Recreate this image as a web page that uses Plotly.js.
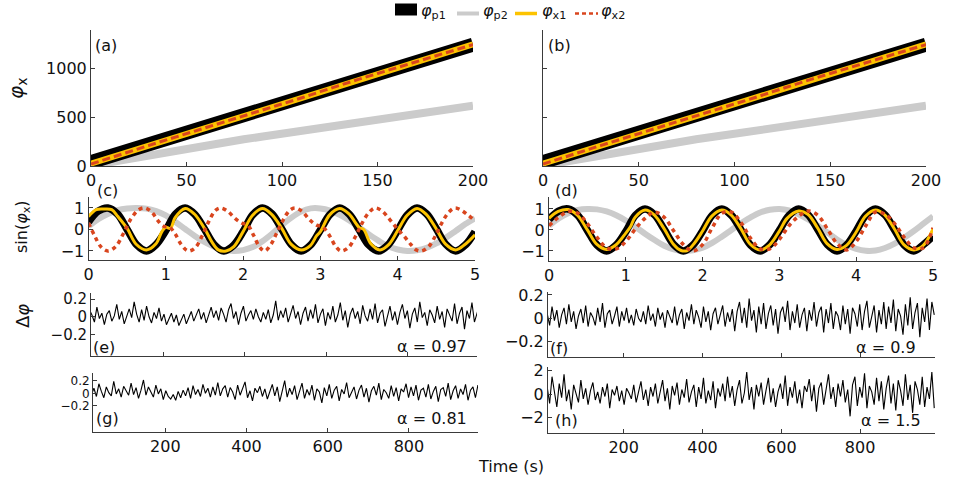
<!DOCTYPE html>
<html>
<head>
<meta charset="utf-8">
<script src="https://cdn.plot.ly/plotly-3.0.1.min.js"></script>
<style>
  html, body { margin: 0; padding: 0; background: #fff; }
  #chart { width: 961px; height: 478px; }
</style>
</head>
<body>
<div id="chart"></div>
<script>
// ---- Panels (a)/(b): unwrapped phases over the first 200 s ----
const timeTop = [0,10,20,30,40,50,60,70,80,90,100,110,120,130,140,150,160,170,180,190,200];
const phiP1Top = [40,100,160,222,282,340,400,460,520,580,640,705,770,835,895,955,1015,1075,1135,1190,1250];
const phiP2Top = [5,40,75,110,148,185,215,245,275,303,332,362,392,420,448,482,510,538,565,592,620];
const phiX1Top = [25,88,150,212,273,333,393,453,513,575,637,700,765,830,892,952,1012,1072,1132,1190,1252];
const phiX2Top = [20,85,148,210,272,332,392,452,512,574,636,700,765,830,892,952,1012,1072,1132,1190,1250];

// ---- Panels (c)/(d): sin of the phases over the first 5 s ----
const sinTime = [0,0.125,0.25,0.375,0.5,0.625,0.75,0.875,1,1.125,1.25,1.375,1.5,1.625,1.75,1.875,2,2.125,2.25,2.375,2.5,2.625,2.75,2.875,3,3.125,3.25,3.375,3.5,3.625,3.75,3.875,4,4.125,4.25,4.375,4.5,4.625,4.75,4.875,5];
const sinP1C = [0.35,0.85,1.0,0.72,0.0,-0.72,-1.0,-0.7,-0.05,0.72,1.0,0.7,0.02,-0.7,-1.0,-0.75,-0.1,0.68,1.0,0.72,0.02,-0.7,-1.0,-0.72,-0.02,0.7,1.0,0.7,0.0,-0.72,-1.0,-0.72,-0.04,0.68,1.0,0.72,0.03,-0.7,-1.0,-0.72,-0.1];
const sinP2C = [0.15,0.48,0.72,0.9,0.98,1.0,0.97,0.85,0.65,0.35,0.02,-0.3,-0.58,-0.8,-0.95,-1.0,-0.96,-0.82,-0.55,-0.2,0.2,0.55,0.83,0.98,0.98,0.88,0.68,0.42,0.1,-0.22,-0.52,-0.78,-0.93,-1.0,-0.97,-0.85,-0.65,-0.38,-0.07,0.25,0.52];
const sinX1CTime = [0,0.1,0.2,0.3,0.38,0.5,0.62,0.75,0.87,0.95,1.0,1.06,1.12,1.25,1.37,1.5,1.6,1.68,1.78,1.88,2.0,2.12,2.25,2.37,2.5,2.62,2.75,2.87,2.95,3.0,3.12,3.25,3.37,3.5,3.56,3.65,3.77,3.88,4.0,4.12,4.25,4.37,4.5,4.62,4.75,4.87,5.0];
const sinX1C = [0.6,0.92,0.95,0.92,0.6,0.05,-0.7,-0.95,-0.68,-0.1,0.1,0.05,0.55,0.98,0.72,0.05,-0.6,-0.95,-1.0,-0.8,-0.1,0.65,0.97,0.7,0.05,-0.68,-0.95,-0.75,-0.3,-0.1,0.68,0.97,0.72,0.1,0.0,-0.65,-0.95,-0.72,-0.05,0.65,0.98,0.7,0.02,-0.68,-0.95,-0.7,-0.25];
const sinX2CTime = [0,0.08,0.16,0.25,0.35,0.45,0.55,0.65,0.73,0.82,0.9,0.97,1.05,1.12,1.2,1.29,1.38,1.47,1.56,1.64,1.71,1.8,1.9,1.98,2.06,2.14,2.21,2.28,2.36,2.43,2.52,2.6,2.67,2.76,2.86,2.95,3.03,3.12,3.2,3.27,3.36,3.45,3.54,3.63,3.71,3.8,3.9,3.99,4.08,4.17,4.24,4.31,4.4,4.48,4.57,4.66,4.74,4.82,4.9,5.0];
const sinX2C = [0.3,-0.3,-0.8,-1.0,-0.8,-0.2,0.5,0.92,1.0,0.8,0.4,0.15,0.1,-0.2,-0.7,-1.0,-0.85,-0.3,0.4,0.88,1.0,0.85,0.5,0.3,0.2,-0.3,-0.8,-1.0,-0.7,-0.2,0.45,0.88,1.0,0.85,0.45,0.2,0.12,-0.3,-0.8,-1.0,-0.85,-0.35,0.3,0.8,1.0,0.85,0.45,0.05,-0.3,-0.7,-0.95,-1.0,-0.8,-0.35,0.3,0.8,1.0,0.9,0.7,0.4];

const sinP1D = [0.5,0.9,1.0,0.7,-0.02,-0.72,-1.0,-0.72,-0.08,0.7,1.0,0.72,0.03,-0.7,-1.0,-0.72,-0.05,0.7,1.0,0.7,0.0,-0.72,-1.0,-0.7,-0.02,0.7,1.0,0.72,0.02,-0.7,-1.0,-0.72,-0.05,0.7,1.0,0.72,0.0,-0.72,-1.0,-0.7,-0.3];
const sinP2D = [0.2,0.55,0.8,0.95,1.0,0.98,0.88,0.7,0.45,0.15,-0.18,-0.48,-0.75,-0.92,-1.0,-0.97,-0.85,-0.62,-0.32,0.0,0.32,0.6,0.83,0.96,1.0,0.93,0.75,0.5,0.2,-0.12,-0.45,-0.72,-0.9,-0.99,-0.98,-0.86,-0.65,-0.37,-0.05,0.3,0.65];
const sinX1DTime = [0,0.12,0.25,0.37,0.5,0.62,0.75,0.87,1.0,1.06,1.12,1.25,1.37,1.5,1.62,1.72,1.8,1.9,2.0,2.12,2.25,2.37,2.5,2.62,2.75,2.87,3.0,3.1,3.25,3.37,3.5,3.62,3.75,3.87,4.0,4.12,4.25,4.37,4.5,4.62,4.75,4.87,5.0];
const sinX1D = [0.55,0.88,0.97,0.7,0.0,-0.68,-0.93,-0.72,-0.15,0.15,0.6,0.95,0.72,0.05,-0.68,-0.98,-0.98,-0.6,-0.05,0.66,0.95,0.72,0.05,-0.68,-0.95,-0.72,-0.05,0.55,0.9,0.75,0.08,-0.65,-0.93,-0.75,-0.1,0.65,0.95,0.72,0.03,-0.7,-0.95,-0.75,0.05];
const sinX2D = [0.2,0.6,0.88,0.8,0.3,-0.35,-0.85,-0.9,-0.55,0.05,0.55,0.85,0.6,-0.05,-0.7,-1.0,-0.7,0.1,0.8,0.85,0.35,-0.4,-0.9,-0.9,-0.45,0.2,0.65,0.9,0.7,0.05,-0.65,-0.95,-0.55,0.2,0.85,0.75,0.3,-0.35,-0.85,-0.85,0.1];

// ---- Panels (e)-(h): phase differences over the full record ----
const dPhiE = [0.05,-0.04,0.08,0.02,-0.06,0.11,-0.02,0.04,-0.09,0.03,0.07,-0.05,0.01,0.14,-0.03,0.06,-0.08,0.02,
  0.09,-0.01,0.17,0.03,-0.06,0.08,-0.04,0.12,0.0,-0.07,0.05,-0.02,0.1,-0.05,0.03,-0.09,-0.03,0.04,
  -0.06,0.02,-0.1,-0.04,0.03,-0.08,-0.02,0.06,-0.05,0.01,0.09,-0.03,0.05,-0.07,0.02,0.11,-0.01,0.07,
  -0.04,0.1,0.03,-0.06,0.08,0.15,-0.02,0.06,-0.09,0.04,0.12,-0.05,0.02,0.07,-0.03,0.09,0.0,-0.06,
  0.05,-0.03,0.08,-0.07,0.02,0.18,-0.04,0.07,-0.01,0.1,-0.06,0.03,0.13,-0.02,0.06,-0.09,0.04,0.11,
  -0.05,0.08,-0.02,0.14,-0.07,0.03,0.09,-0.1,0.05,-0.03,0.12,-0.06,0.02,0.16,-0.04,0.07,-0.12,0.03,
  0.1,-0.02,0.06,-0.08,0.13,0.01,-0.05,0.09,-0.03,0.15,-0.07,0.04,0.08,-0.11,0.02,0.12,-0.04,0.06,
  -0.09,0.05,0.14,-0.02,0.07,-0.13,0.03,0.1,-0.06,0.17,-0.01,0.05,-0.1,0.08,0.02,-0.07,0.12,-0.03,
  0.06,-0.12,0.09,0.01,-0.05,0.15,-0.08,0.04,0.11,-0.14,0.07,-0.02,0.16,-0.06,0.03,0.13,-0.09,0.18];
const dPhiF = [0.04,-0.06,0.1,-0.02,0.07,-0.08,0.03,0.09,-0.05,0.12,-0.03,0.06,-0.09,0.02,0.08,-0.04,0.11,-0.07,
  0.05,0.01,-0.06,0.09,-0.03,0.13,-0.08,0.04,0.07,-0.05,0.02,0.1,-0.07,0.06,-0.02,0.09,-0.04,0.03,
  -0.06,0.08,0.0,-0.03,0.06,-0.05,0.11,-0.02,0.04,-0.07,0.09,-0.01,0.05,-0.08,0.07,0.02,-0.04,0.1,
  -0.06,0.03,0.08,-0.09,0.05,-0.02,0.12,-0.05,0.07,0.01,-0.08,0.1,-0.03,0.06,-0.1,0.04,0.09,-0.05,
  0.02,0.11,-0.07,0.05,-0.03,0.08,-0.11,0.06,0.14,-0.04,0.09,-0.08,0.17,-0.02,0.07,-0.12,0.1,-0.05,
  0.13,-0.09,0.04,0.11,-0.06,0.08,-0.13,0.05,0.1,-0.03,0.15,-0.1,0.06,-0.04,0.12,-0.08,0.03,0.09,
  -0.11,0.07,-0.02,0.14,-0.07,0.05,0.1,-0.12,0.08,-0.04,0.13,-0.09,0.06,0.02,-0.1,0.11,-0.05,0.08,
  -0.13,0.09,0.04,-0.07,0.12,-0.1,0.06,0.15,-0.08,0.03,0.11,-0.12,0.07,-0.05,0.14,-0.09,0.1,-0.04,
  0.16,-0.11,0.08,0.02,-0.14,0.12,-0.06,0.18,-0.09,0.05,0.13,-0.16,0.09,-0.03,0.17,-0.1,0.14,0.03];
const dPhiG = [0.06,0.12,-0.02,0.08,-0.05,0.15,0.03,-0.07,0.1,0.01,-0.04,0.19,-0.01,0.07,-0.06,0.11,0.04,-0.03,
  0.16,-0.02,0.09,-0.08,0.05,0.21,-0.03,0.1,0.02,-0.06,0.13,-0.01,0.07,-0.1,0.04,-0.05,-0.09,-0.02,
  -0.11,0.03,-0.07,0.05,-0.04,0.09,-0.08,0.12,-0.02,0.06,-0.05,0.14,0.0,0.08,-0.06,0.1,-0.03,0.17,
  -0.04,0.07,0.12,-0.06,0.09,0.02,-0.1,0.13,-0.03,0.06,0.18,-0.07,0.04,-0.12,0.08,0.01,0.11,-0.05,
  0.07,-0.09,0.03,0.14,-0.04,0.1,-0.13,0.05,0.2,-0.06,0.08,-0.02,0.12,-0.1,0.04,0.16,-0.08,0.06,
  -0.03,0.13,-0.11,0.07,0.02,-0.15,0.09,-0.04,0.14,-0.08,0.05,0.11,-0.12,0.06,-0.01,0.17,-0.07,0.03,
  0.1,-0.09,0.05,0.13,-0.06,0.08,-0.14,0.04,0.11,-0.03,0.16,-0.1,0.06,0.01,-0.08,0.12,-0.05,0.09,
  -0.12,0.07,0.02,0.15,-0.07,0.1,-0.04,0.13,-0.11,0.05,0.08,-0.06,0.14,-0.09,0.03,0.11,-0.13,0.06,
  0.09,-0.05,0.16,-0.1,0.04,0.12,-0.08,0.07,-0.02,0.14,-0.11,0.05,0.1,-0.07,0.13,-0.04,0.08,0.18];
const dPhiH = [0.6,-0.8,1.5,0.2,-1.1,0.9,-0.3,1.7,-0.6,0.4,-1.3,0.8,0.1,-0.7,1.2,-0.4,0.5,-0.9,
  0.3,1.0,-0.5,0.2,-0.8,0.6,-0.2,0.9,-1.2,0.4,-0.1,0.7,-0.6,0.3,-0.9,0.5,0.1,-0.4,
  0.8,-0.7,0.2,1.1,-0.5,0.4,-1.0,0.6,-0.2,0.9,-0.8,0.3,1.2,-0.6,0.5,-1.3,0.7,-0.1,
  1.0,-0.9,0.4,-0.3,1.3,-0.7,0.2,0.8,-1.1,0.6,-0.4,1.4,-0.8,0.3,-0.5,1.1,-1.2,0.5,
  -0.2,0.9,-0.6,1.5,-0.3,0.7,-1.0,0.4,1.2,-0.8,0.1,1.9,-0.5,0.6,-1.3,0.8,-0.2,1.0,
  -0.9,0.3,1.4,-0.7,0.5,-1.1,0.2,0.9,-0.4,1.6,-1.0,0.6,-0.3,1.1,-0.8,0.4,-1.2,0.7,
  0.2,1.3,-0.6,0.8,-1.5,0.5,1.0,-0.9,0.3,1.7,-0.4,0.6,-1.1,0.9,-0.2,1.2,-0.7,0.4,
  -1.9,0.8,1.5,-1.0,0.6,-0.3,1.8,-1.2,0.7,0.2,-0.9,1.4,-0.6,1.1,-1.3,0.5,1.6,-0.8,
  0.9,-1.4,1.2,0.3,-1.0,1.7,-0.5,0.8,-1.6,1.1,0.4,-0.9,1.5,-1.1,0.6,-0.4,1.9,-1.2];
// sample times of the phase-difference records (seconds)
const noiseTime = dPhiE.map((_, i) => 6 + 6.1 * i);

const alphaLabels = ['α = 0.97', 'α = 0.9', 'α = 0.81', 'α = 1.5'];
const legendNames = ['<i>φ</i><sub>p1</sub>', '<i>φ</i><sub>p2</sub>', '<i>φ</i><sub>x1</sub>', '<i>φ</i><sub>x2</sub>'];

// ---- styling ----
const W = 961, H = 478;
const FONT = 'DejaVu Sans';
const C_P1 = '#000000', C_P2 = '#cbcbcb', C_X1 = '#fcc300', C_X2 = '#d9451e';
const dx = (a, b) => [a / W, b / W];
const dy = (top, bottom) => [1 - bottom / H, 1 - top / H];
const px = v => v / W;
const py = v => 1 - v / H;

function axis(extra) {
  return Object.assign({
    showline: true, linecolor: '#3a3a3a', linewidth: 1,
    ticks: 'inside', ticklen: 4, tickcolor: '#3a3a3a', tickwidth: 1,
    showgrid: false, zeroline: false, fixedrange: true,
    tickfont: { family: FONT, size: 16, color: '#111' }
  }, extra);
}

function line(x, y, xa, ya, color, width, dash, smooth) {
  return {
    type: 'scatter', mode: 'lines', x: x, y: y, xaxis: xa, yaxis: ya,
    line: { color: color, width: width, dash: dash || 'solid', shape: smooth ? 'spline' : 'linear', smoothing: 1 },
    showlegend: false, hoverinfo: 'skip'
  };
}

const traces = [];
// (a) and (b)
[['x', 'y'], ['x2', 'y2']].forEach(([xa, ya]) => {
  traces.push(line(timeTop, phiP2Top, xa, ya, C_P2, 8));
  traces.push(line(timeTop, phiP1Top, xa, ya, C_P1, 14));
  traces.push(line(timeTop, phiX1Top, xa, ya, C_X1, 6));
  traces.push(line(timeTop, phiX2Top, xa, ya, C_X2, 3, '8px,4px'));
});
// (c)
traces.push(line(sinTime, sinP2C, 'x3', 'y3', C_P2, 6, null, true));
traces.push(line(sinTime, sinP1C, 'x3', 'y3', C_P1, 7.5, null, true));
traces.push(line(sinX1CTime, sinX1C, 'x3', 'y3', C_X1, 3, null, true));
traces.push(line(sinX2CTime, sinX2C, 'x3', 'y3', C_X2, 3.5, '4px,4px', true));
// (d)
traces.push(line(sinTime, sinP2D, 'x4', 'y4', C_P2, 6, null, true));
traces.push(line(sinTime, sinP1D, 'x4', 'y4', C_P1, 7.5, null, true));
traces.push(line(sinX1DTime, sinX1D, 'x4', 'y4', C_X1, 3, null, true));
traces.push(line(sinTime, sinX2D, 'x4', 'y4', C_X2, 3.5, '4px,4px', true));
// (e)-(h)
traces.push(line(noiseTime, dPhiE, 'x5', 'y5', '#000', 1.1));
traces.push(line(noiseTime, dPhiF, 'x6', 'y6', '#000', 1.1));
traces.push(line(noiseTime, dPhiG, 'x7', 'y7', '#000', 1.1));
traces.push(line(noiseTime, dPhiH, 'x8', 'y8', '#000', 1.1));

const topTicks = [0, 50, 100, 150, 200];
const sinTicks = [0, 1, 2, 3, 4, 5];
const timeTicks = [200, 400, 600, 800];

const layout = {
  width: W, height: H,
  margin: { l: 0, r: 0, t: 0, b: 0 },
  paper_bgcolor: '#fff', plot_bgcolor: 'rgba(0,0,0,0)',
  font: { family: FONT, size: 16, color: '#111' },
  showlegend: false,
  xaxis:  axis({ domain: dx(91, 473),  range: [0, 200], tickvals: topTicks, anchor: 'y' }),
  yaxis:  axis({ domain: dy(30, 166),  range: [0, 1400], tickvals: [0, 500, 1000], anchor: 'x' }),
  xaxis2: axis({ domain: dx(543, 926), range: [0, 200], tickvals: topTicks, anchor: 'y2' }),
  yaxis2: axis({ domain: dy(30, 166),  range: [0, 1400], tickvals: [0, 500, 1000], showticklabels: false, anchor: 'x2' }),
  xaxis3: axis({ domain: dx(88.5, 475), range: [0, 5], tickvals: sinTicks, anchor: 'y3' }),
  yaxis3: axis({ domain: dy(197, 260), range: [-1.42, 1.51], tickvals: [-1, 0, 1], anchor: 'x3' }),
  xaxis4: axis({ domain: dx(549, 933), range: [0, 5], tickvals: sinTicks, anchor: 'y4' }),
  yaxis4: axis({ domain: dy(197, 261), range: [-1.48, 1.57], tickvals: [-1, 0, 1], anchor: 'x4' }),
  xaxis5: axis({ domain: dx(91, 477),  range: [22, 970], tickvals: timeTicks, showticklabels: false, anchor: 'y5' }),
  yaxis5: axis({ domain: dy(293, 356), range: [-0.446, 0.27], tickvals: [-0.2, 0, 0.2], anchor: 'x5',
                 tickfont: { family: FONT, size: 15, color: '#111' } }),
  xaxis6: axis({ domain: dx(548, 935), range: [8, 990], tickvals: timeTicks, showticklabels: false, anchor: 'y6' }),
  yaxis6: axis({ domain: dy(292, 357), range: [-0.33, 0.225], tickvals: [-0.2, 0, 0.2], anchor: 'x6' }),
  xaxis7: axis({ domain: dx(93, 478),  range: [22, 970], tickvals: timeTicks, anchor: 'y7' }),
  yaxis7: axis({ domain: dy(373, 432), range: [-0.61, 0.32], tickvals: [-0.2, 0, 0.2], anchor: 'x7',
                 tickfont: { family: FONT, size: 12, color: '#111' } }),
  xaxis8: axis({ domain: dx(548, 935), range: [8, 990], tickvals: timeTicks, anchor: 'y8' }),
  yaxis8: axis({ domain: dy(367, 433), range: [-3.33, 2.33], tickvals: [-2, 0, 2], anchor: 'x8' }),
  shapes: [], annotations: []
};

function note(text, x, y, opts) {
  layout.annotations.push(Object.assign({
    text: text, xref: 'paper', yref: 'paper', x: px(x), y: py(y),
    xanchor: 'center', yanchor: 'middle', showarrow: false,
    font: { family: FONT, size: 16, color: '#111' }
  }, opts || {}));
}

// panel tags
note('(a)', 106, 45);
note('(b)', 559, 45);
note('(c)', 107, 190);
note('(d)', 566, 190);
note('(e)', 104, 347);
note('(f)', 559, 348);
note('(g)', 107, 418);
note('(h)', 566, 420);
// coupling exponents
note(alphaLabels[0], 469, 346, { xanchor: 'right' });
note(alphaLabels[1], 918, 347, { xanchor: 'right' });
note(alphaLabels[2], 469, 418, { xanchor: 'right' });
note(alphaLabels[3], 923, 420, { xanchor: 'right' });
// axis titles
note('<i>φ</i><sub>x</sub>', 17, 88, { textangle: -90, font: { family: FONT, size: 20, color: '#111' } });
note('sin(<i>φ</i><sub>x</sub>)', 22, 227, { textangle: -90 });
note('Δ<i>φ</i>', 22, 316, { textangle: -90, font: { family: FONT, size: 18, color: '#111' } });
note('Time (s)', 511, 466);

// legend row
const legendKeys = [
  { x0: 395, x1: 417, kind: 'box', color: C_P1 },
  { x0: 457, x1: 479, kind: 'line', color: C_P2, width: 4 },
  { x0: 515, x1: 537, kind: 'line', color: C_X1, width: 3.5 },
  { x0: 575, x1: 598, kind: 'line', color: C_X2, width: 2.5, dash: '4px,3px' }
];
const legendTextX = [419, 481, 540, 599];
legendKeys.forEach((k, i) => {
  if (k.kind === 'box') {
    layout.shapes.push({ type: 'rect', xref: 'paper', yref: 'paper',
      x0: px(k.x0), x1: px(k.x1), y0: py(15.5), y1: py(3.5),
      fillcolor: k.color, line: { width: 0 } });
  } else {
    layout.shapes.push({ type: 'line', xref: 'paper', yref: 'paper',
      x0: px(k.x0), x1: px(k.x1), y0: py(13.5), y1: py(13.5),
      line: { color: k.color, width: k.width, dash: k.dash || 'solid' } });
  }
  note(legendNames[i], legendTextX[i], 12, { xanchor: 'left' });
});

Plotly.newPlot('chart', traces, layout, { staticPlot: true, displayModeBar: false });
</script>
</body>
</html>
